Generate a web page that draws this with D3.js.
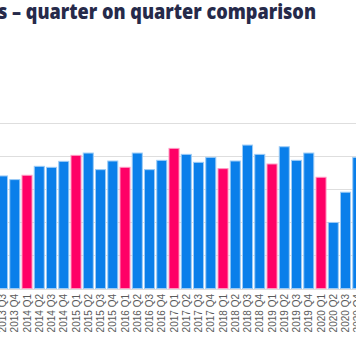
<!DOCTYPE html>
<html>
<head>
<meta charset="utf-8">
<script src="https://cdn.jsdelivr.net/npm/d3@7"></script>
<style>
  html, body { margin: 0; padding: 0; background: #fff; overflow: hidden; }
  svg { display: block; }
</style>
</head>
<body>
<svg id="chart" width="356" height="364"></svg>
<script>
const titleText = "s \u2013 quarter on quarter comparison";
const categories = [
  "2013 Q3","2013 Q4",
  "2014 Q1","2014 Q2","2014 Q3","2014 Q4",
  "2015 Q1","2015 Q2","2015 Q3","2015 Q4",
  "2016 Q1","2016 Q2","2016 Q3","2016 Q4",
  "2017 Q1","2017 Q2","2017 Q3","2017 Q4",
  "2018 Q1","2018 Q2","2018 Q3","2018 Q4",
  "2019 Q1","2019 Q2","2019 Q3","2019 Q4",
  "2020 Q1","2020 Q2","2020 Q3","2020 Q4"
];
const values = [
  339, 328,
  341, 368, 365, 383,
  401, 408, 358, 384,
  365, 408, 358, 386,
  422, 404, 380, 395,
  361, 384, 432, 404,
  375, 427, 386, 408,
  335, 199, 290, 395
];
const yTicks = [0, 100, 200, 300, 400, 500];

const svg = d3.select("#chart");
const W = 356, H = 364;
const baseY = 288.5;
const unit = 33.2 / 100;

const x = d3.scaleBand()
  .domain(categories)
  .range([-3.6, -3.6 + 12.25 * categories.length])
  .paddingInner(0.18)
  .paddingOuter(0.09);

const y = d3.scaleLinear()
  .domain([0, 500])
  .range([baseY, baseY - 500 * unit]);

// gridlines
svg.append("g")
  .selectAll("line")
  .data(yTicks.slice(1, 6))
  .join("line")
  .attr("x1", 0).attr("x2", W)
  .attr("y1", d => Math.round(y(d)) + 0.5)
  .attr("y2", d => Math.round(y(d)) + 0.5)
  .attr("stroke", "#dedede")
  .attr("stroke-width", 1);

// bars
svg.append("g")
  .selectAll("rect")
  .data(categories.map((c, i) => ({ c, v: values[i] })))
  .join("rect")
  .attr("x", d => x(d.c))
  .attr("y", d => y(d.v))
  .attr("width", x.bandwidth())
  .attr("height", d => y(0) - y(d.v))
  .attr("fill", d => d.c.endsWith("Q1") ? "#ff0066" : "#0a7fea")
  .attr("stroke", d => d.c.endsWith("Q1") ? "#ff99c2" : "#9ccbf6")
  .attr("stroke-width", 1);

// baseline
svg.append("line")
  .attr("x1", 0).attr("x2", W)
  .attr("y1", Math.round(baseY) + 0.5).attr("y2", Math.round(baseY) + 0.5)
  .attr("stroke", "#dcdcdc");

// x axis labels
const xAxis = d3.axisBottom(x).tickSize(0).tickPadding(0);
const gx = svg.append("g")
  .attr("transform", `translate(0,${Math.round(baseY) + 5})`)
  .call(xAxis);
gx.select(".domain").remove();
gx.selectAll("text")
  .attr("transform", "rotate(-90)")
  .attr("x", 0)
  .attr("y", 0)
  .attr("dy", "0.35em")
  .attr("text-anchor", "end")
  .attr("font-family", "'Liberation Sans', Arial, sans-serif")
  .attr("font-size", 10)
  .attr("fill", "#5a5a5a");

// title
svg.append("text")
  .attr("x", -2)
  .attr("y", 19)
  .attr("font-family", "'Open Sans', sans-serif")
  .attr("font-weight", 800)
  .attr("font-size", 21)
  .attr("fill", "#262a4a")
  .attr("textLength", 318)
  .attr("lengthAdjust", "spacingAndGlyphs")
  .text(titleText);
</script>
</body>
</html>
